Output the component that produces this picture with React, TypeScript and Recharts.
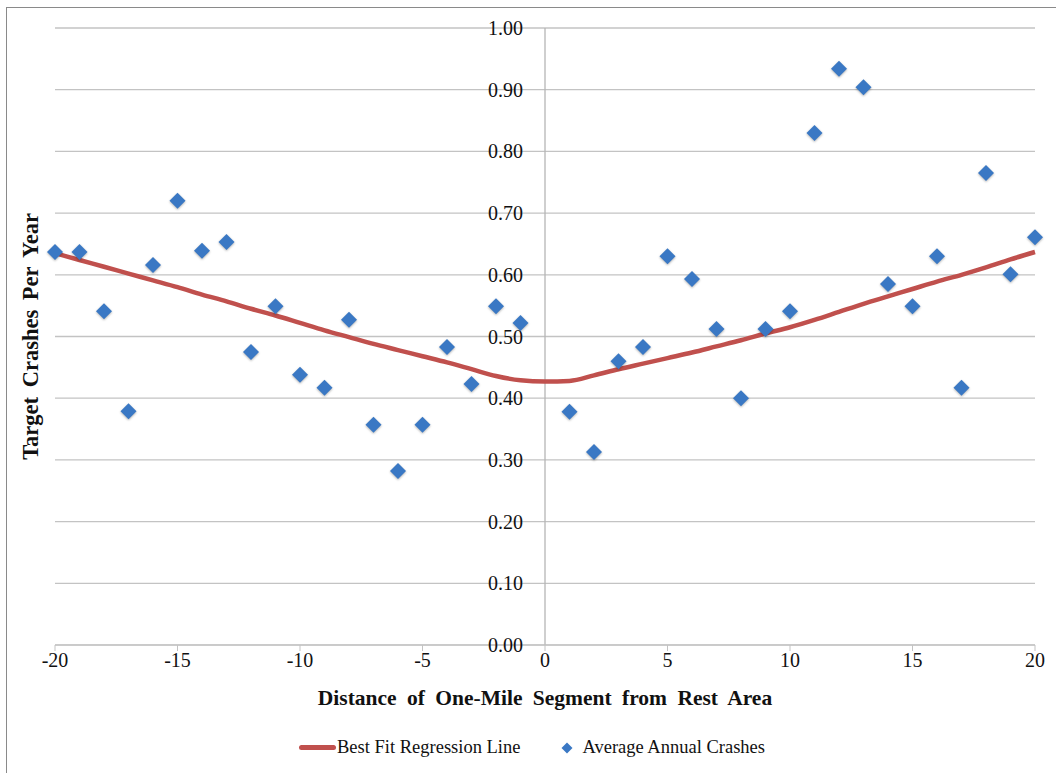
import React from 'react';
import {
  ComposedChart,
  Line,
  Scatter,
  XAxis,
  YAxis,
  CartesianGrid,
  ReferenceLine,
  Label,
} from 'recharts';

// miles from the rest area (negative = upstream)
const distances = [
  -20, -19, -18, -17, -16, -15, -14, -13, -12, -11, -10, -9, -8, -7, -6, -5, -4, -3, -2, -1,
  0, 1, 2, 3, 4, 5, 6, 7, 8, 9, 10, 11, 12, 13, 14, 15, 16, 17, 18, 19, 20,
];

// average annual target crashes per segment (no segment at 0)
const crashes = [
  0.637, 0.637, 0.541, 0.379, 0.616, 0.72, 0.639, 0.653, 0.475, 0.549, 0.438, 0.417, 0.527,
  0.357, 0.282, 0.357, 0.483, 0.423, 0.549, 0.522,
  null, 0.378, 0.313, 0.46, 0.483, 0.63, 0.593, 0.512, 0.4, 0.512, 0.541, 0.83, 0.934, 0.904,
  0.585, 0.549, 0.63, 0.417, 0.765, 0.601, 0.661,
];

// fitted regression curve
const fit = [
  0.635, 0.624, 0.613, 0.602, 0.591, 0.58, 0.568, 0.557, 0.545, 0.534, 0.522, 0.51, 0.499,
  0.488, 0.478, 0.468, 0.458, 0.447, 0.436, 0.429,
  0.427, 0.428, 0.437, 0.447, 0.456, 0.465, 0.474, 0.484, 0.494, 0.505, 0.515, 0.527, 0.54,
  0.553, 0.565, 0.577, 0.589, 0.6, 0.612, 0.625, 0.637,
];

const xTicks = [-20, -15, -10, -5, 0, 5, 10, 15, 20];
const yTicks = [0, 0.1, 0.2, 0.3, 0.4, 0.5, 0.6, 0.7, 0.8, 0.9, 1.0];

const rows = distances.map((x, i) => ({ x, crashes: crashes[i], fit: fit[i] }));
const points = rows.filter((r) => r.crashes !== null);

const W = 1056;
const H = 773;
const PLOT_LEFT = 55;
const PLOT_RIGHT = 1035;
const ZERO_X = (PLOT_LEFT + PLOT_RIGHT) / 2;

const FONT = '"Liberation Serif", "Times New Roman", serif';
const BLUE = '#3A78C4';
const RED = '#C0504D';
const GRID = '#c3c3c3';

function Diamond(props: any) {
  const { cx, cy } = props;
  const r = 8;
  return (
    <path
      d={`M${cx},${cy - r} L${cx + r},${cy} L${cx},${cy + r} L${cx - r},${cy} Z`}
      fill={BLUE}
      style={{ filter: 'drop-shadow(0.5px 1.5px 1px rgba(0,0,0,0.3))' }}
    />
  );
}

// value labels sit just left of the vertical axis at x = 0
function YTick(props: any) {
  const { y, payload } = props;
  return (
    <text
      x={ZERO_X - 22}
      y={y}
      textAnchor="end"
      dominantBaseline="central"
      fontFamily={FONT}
      fontSize={20}
      fill="#111"
    >
      {payload.value.toFixed(2)}
    </text>
  );
}

export default function App() {
  return (
    <div style={{ position: 'absolute', left: 0, top: 0, width: W, height: H, background: '#fff' }}>
      <div
        style={{
          position: 'absolute',
          left: 6,
          top: 7,
          right: -10,
          bottom: -10,
          borderLeft: '1.5px solid #8a8a8a',
          borderTop: '1.5px solid #8a8a8a',
        }}
      />
      <ComposedChart
        width={W}
        height={H}
        data={rows}
        margin={{ top: 28, right: W - PLOT_RIGHT, left: 6, bottom: 98 }}
        style={{ position: 'absolute', left: 0, top: 0 }}
      >
        <CartesianGrid horizontal vertical={false} stroke={GRID} strokeWidth={1.3} />
        <XAxis
          type="number"
          dataKey="x"
          domain={[-20, 20]}
          ticks={xTicks}
          height={30}
          stroke={GRID}
          tickSize={6}
          tick={{ fontFamily: FONT, fontSize: 20, fill: '#111' }}
        >
          <Label
            value="Distance of One-Mile Segment from Rest Area"
            position="bottom"
            offset={15}
            style={{ fontFamily: FONT, fontSize: 21.5, fontWeight: 'bold', fill: '#111', wordSpacing: 5 }}
          />
        </XAxis>
        <YAxis
          type="number"
          domain={[0, 1]}
          ticks={yTicks}
          width={49}
          axisLine={false}
          tickLine={false}
          tick={<YTick />}
        >
          <Label
            value="Target Crashes Per Year"
            angle={-90}
            position="center"
            style={{ fontFamily: FONT, fontSize: 22.5, fontWeight: 'bold', fill: '#111', wordSpacing: 4 }}
          />
        </YAxis>
        <ReferenceLine x={0} stroke="#b5b5b5" strokeWidth={1.3} />
        <Line
          type="monotone"
          dataKey="fit"
          stroke={RED}
          strokeWidth={4.5}
          dot={false}
          isAnimationActive={false}
        />
        <Scatter data={points} dataKey="crashes" shape={<Diamond />} isAnimationActive={false} />
      </ComposedChart>
      <div
        style={{
          position: 'absolute',
          top: 737,
          left: 299,
          display: 'flex',
          alignItems: 'center',
          fontFamily: FONT,
          fontSize: 18.5,
          color: '#111',
          whiteSpace: 'nowrap',
        }}
      >
        <span style={{ display: 'inline-block', width: 37, height: 5, borderRadius: 2.5, background: RED }} />
        <span style={{ marginLeft: 1 }}>Best Fit Regression Line</span>
        <svg width={12} height={12} style={{ marginLeft: 41 }}>
          <path d="M6,0.5 L11.5,6 L6,11.5 L0.5,6 Z" fill={BLUE} />
        </svg>
        <span style={{ marginLeft: 9 }}>Average Annual Crashes</span>
      </div>
    </div>
  );
}
